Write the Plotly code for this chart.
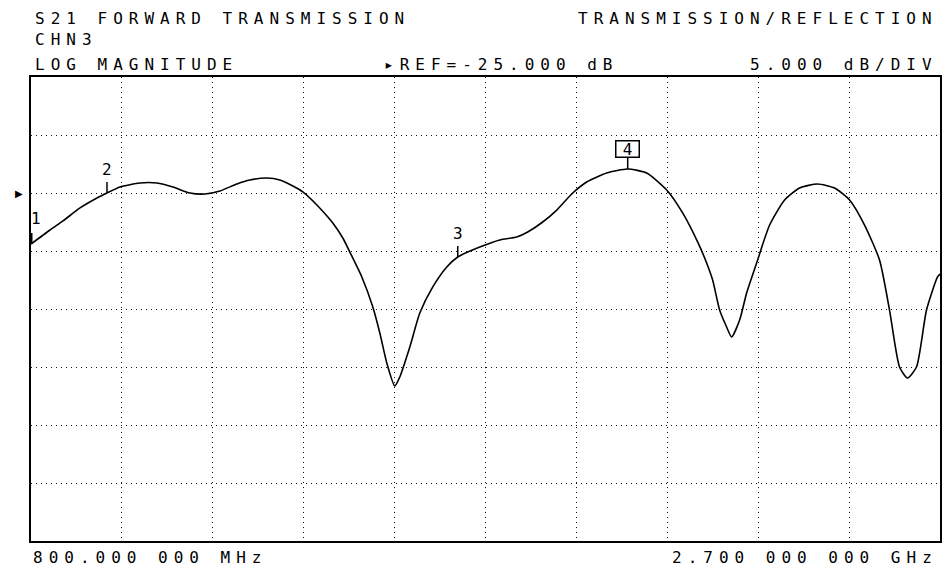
import plotly.graph_objects as go

# ---- data (frequency in MHz, magnitude in dB) ----
freq_mhz = [800.0, 839.7, 866.9, 902.4, 937.9, 958.8, 985.9, 1027.7, 1063.2, 1096.7,
            1132.2, 1163.5, 1194.8, 1230.4, 1257.5, 1293.0, 1320.2, 1347.3, 1368.2, 1397.5,
            1420.5, 1430.9, 1451.8, 1466.4, 1491.5, 1514.5, 1529.1, 1543.7, 1560.4, 1570.9,
            1591.8, 1612.7, 1639.8, 1669.1, 1692.0, 1738.0, 1779.8, 1815.3, 1838.3, 1869.6,
            1898.9, 1932.3, 1961.5, 2003.3, 2047.2, 2086.9, 2128.7, 2162.1, 2193.4, 2212.2,
            2224.8, 2239.4, 2254.0, 2264.5, 2281.2, 2295.8, 2316.7, 2343.9, 2375.2, 2406.5,
            2444.1, 2479.6, 2511.0, 2542.3, 2573.6, 2594.5, 2615.4, 2632.1, 2650.9, 2671.8,
            2694.8, 2700.0]
mag_db = [-29.40, -28.19, -27.41, -26.29, -25.43, -25.00, -24.48, -24.14, -24.14, -24.48,
          -25.00, -25.09, -24.83, -24.22, -23.88, -23.71, -23.88, -24.40, -24.91, -26.03,
          -27.07, -27.59, -28.88, -30.09, -32.24, -34.83, -37.07, -39.66, -41.64, -40.86,
          -38.28, -35.35, -33.10, -31.38, -30.52, -29.66, -29.05, -28.79, -28.36, -27.50,
          -26.47, -25.00, -24.05, -23.28, -22.93, -23.28, -24.74, -26.72, -29.22, -31.03,
          -32.50, -35.09, -36.55, -37.41, -35.95, -33.62, -31.03, -27.76, -25.60, -24.57,
          -24.22, -24.57, -25.60, -27.76, -30.78, -35.09, -40.00, -40.95, -40.00, -35.09,
          -32.24, -31.98]

marker_labels = ["1", "2", "3", "4"]
marker_freq = [800.0, 958.8, 1692.0, 2047.2]
marker_db = [-29.40, -25.00, -30.52, -22.93]

start_mhz = 800.0
stop_mhz = 2700.0
ref_db = -25.0
db_per_div = 5.0
n_xdiv = 10
n_ydiv = 8
ref_div_from_top = 2

top_db = ref_db + ref_div_from_top * db_per_div
bottom_db = top_db - n_ydiv * db_per_div

FONT = "DejaVu Sans Mono"
SP = "letter-spacing:6px"
GRID_DASH = "1px,4px"

fig = go.Figure()
fig.add_trace(go.Scatter(x=freq_mhz, y=mag_db, mode="lines",
                         line=dict(color="black", width=1.6, shape="spline", smoothing=0.6),
                         hoverinfo="skip", showlegend=False))

# marker ticks and labels
tick_len = 0.95
for i, (lab, f, d) in enumerate(zip(marker_labels, marker_freq, marker_db)):
    fig.add_shape(type="line", x0=f, x1=f, y0=d, y1=d + tick_len, xref="x", yref="y",
                  line=dict(color="black", width=3 if i == 0 else 1.5))
    if lab == "4":
        fig.add_annotation(x=f, y=d + tick_len, text=lab, showarrow=False, xref="x", yref="y",
                           yanchor="bottom", width=20, height=13,
                           font=dict(family=FONT, size=16, color="black"),
                           bordercolor="black", borderwidth=1.5, borderpad=1, bgcolor="white")
    elif i == 0:
        fig.add_annotation(x=f, y=d + 1.2, text=lab, showarrow=False, xref="x", yref="y",
                           xanchor="left", yanchor="bottom", xshift=-2,
                           font=dict(family=FONT, size=16, color="black"))
    else:
        fig.add_annotation(x=f, y=d + 1.0, text=lab, showarrow=False, xref="x", yref="y",
                           yanchor="bottom", font=dict(family=FONT, size=16, color="black"))

# reference-level arrow at the left edge
fig.add_annotation(x=0, y=ref_db, xref="paper", yref="y", text="\u25B6", showarrow=False,
                   xanchor="right", xshift=-6, font=dict(family="DejaVu Sans", size=10, color="black"))


def txt(s, x, y, xanchor):
    fig.add_annotation(x=x, y=y, xref="paper", yref="paper", showarrow=False,
                       text='<span style="%s">%s</span>' % (SP, s), xanchor=xanchor,
                       yanchor="middle", font=dict(family=FONT, size=16, color="black"))


txt("S21 FORWARD TRANSMISSION", 0.002, 1.127, "left")
txt("TRANSMISSION/REFLECTION", 1.0, 1.127, "right")
txt("CHN3", 0.002, 1.081, "left")
txt("LOG MAGNITUDE", 0.002, 1.028, "left")
txt("\u25B8REF=%.3f dB" % ref_db, 0.386, 1.028, "left")
txt("%.3f dB/DIV" % db_per_div, 1.0, 1.028, "right")
txt("800.000 000 MHz", 0.0, -0.0345, "left")
txt("2.700 000 000 GHz", 1.0, -0.0345, "right")

axis_common = dict(showticklabels=False, ticks="", showgrid=True, gridcolor="#111",
                   griddash=GRID_DASH, gridwidth=1, zeroline=False, showline=True,
                   linecolor="black", linewidth=2, mirror=True)

fig.update_layout(
    width=934, height=561,
    margin=dict(l=23, r=1.5, t=69, b=28, autoexpand=False),
    paper_bgcolor="white", plot_bgcolor="white",
    xaxis=dict(range=[start_mhz, stop_mhz], dtick=(stop_mhz - start_mhz) / n_xdiv,
               tick0=start_mhz, **axis_common),
    yaxis=dict(range=[bottom_db, top_db], dtick=db_per_div, tick0=top_db, **axis_common),
)

fig.write_html("out.html")
